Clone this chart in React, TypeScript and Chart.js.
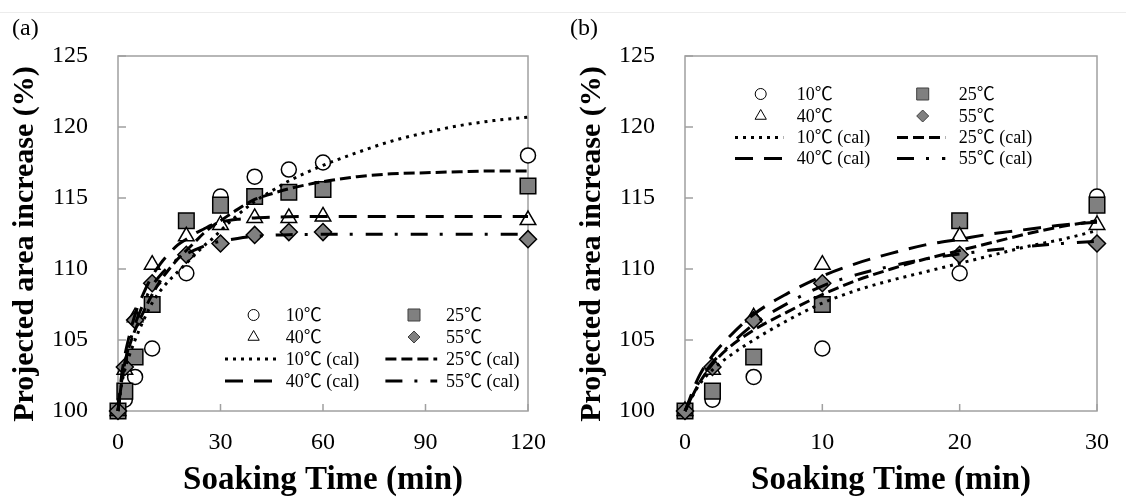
import React, { useEffect, useRef } from "react";
import { Chart, registerables } from "chart.js";

Chart.register(...registerables);

// ---------------- data ----------------
const seriesNames = ["10℃", "25℃", "40℃", "55℃"];

const measuredTimes = [0, 2, 5, 10, 20, 30, 40, 50, 60, 120];
const measured10 = [100, 100.8, 102.4, 104.4, 109.7, 115.1, 116.5, 117.0, 117.5, 118.0];
const measured25 = [100, 101.4, 103.8, 107.5, 113.4, 114.5, 115.1, 115.4, 115.6, 115.85];
const measured40 = [100, 102.9, 106.6, 110.3, 112.3, 113.1, 113.6, 113.6, 113.7, 113.45];
const measured55 = [100, 103.1, 106.4, 109.0, 111.0, 111.8, 112.4, 112.6, 112.6, 112.1];

const calTimes = [0, 1, 2, 3, 5, 7.5, 10, 12.5, 15, 17.5, 20, 22.5, 25, 27.5, 30, 35, 40, 45, 50, 60, 70, 80, 90, 100, 110, 120];
const cal10 = [100, 101.8, 102.9, 103.7, 105.0, 106.4, 107.6, 108.5, 109.2, 109.8, 110.4, 111.0, 111.6, 112.1, 112.7, 113.8, 114.75, 115.5, 116.2, 117.3, 118.2, 119.0, 119.6, 120.1, 120.45, 120.7];
const cal25 = [100, 101.9, 103.3, 104.3, 105.7, 107.0, 108.2, 109.2, 110.0, 110.7, 111.3, 111.9, 112.5, 113.0, 113.4, 114.2, 114.9, 115.3, 115.65, 116.15, 116.5, 116.7, 116.78, 116.85, 116.9, 116.9];
const cal40 = [100, 102.4, 103.9, 105.0, 106.8, 108.3, 109.5, 110.4, 111.1, 111.7, 112.1, 112.5, 112.8, 113.1, 113.3, 113.5, 113.6, 113.65, 113.68, 113.7, 113.7, 113.7, 113.7, 113.7, 113.7, 113.7];
const cal55 = [100, 102.0, 103.4, 104.4, 106.1, 107.6, 108.8, 109.6, 110.2, 110.7, 111.05, 111.35, 111.6, 111.8, 111.95, 112.15, 112.3, 112.38, 112.42, 112.44, 112.44, 112.44, 112.44, 112.44, 112.44, 112.44];

const xTicksA = [0, 30, 60, 90, 120];
const xTicksB = [0, 10, 20, 30];
const yTicks = [100, 105, 110, 115, 120, 125];

const xTitle = "Soaking Time (min)";
const yTitle = "Projected area increase (%)";
const panelLabels = ["(a)", "(b)"];

// ---------------- styles ----------------
const FONT = "'Liberation Serif', 'Times New Roman', 'Noto Sans CJK JP', serif";
const markerDefs = [
  { style: "circle", radius: 7.5, fill: "#ffffff", legendR: 5.5 },
  { style: "rect", radius: 11, fill: "#808080", legendR: 8.5 },
  { style: "triangle", radius: 9, fill: "#ffffff", legendR: 6.5 },
  { style: "rectRot", radius: 8.5, fill: "#808080", legendR: 6 },
];
const calDashes = [[3, 5], [11, 5], [18, 11], [17, 12, 3, 13]];

function drawMarker(ctx: CanvasRenderingContext2D, i: number, x: number, y: number) {
  const d = markerDefs[i];
  const r = d.legendR;
  ctx.save();
  ctx.fillStyle = d.fill;
  ctx.strokeStyle = i % 2 === 1 ? "#404040" : "#000";
  ctx.lineWidth = 1;
  ctx.setLineDash([]);
  ctx.beginPath();
  if (d.style === "circle") {
    ctx.arc(x, y, r, 0, Math.PI * 2);
  } else if (d.style === "rect") {
    const s = r * Math.SQRT1_2;
    ctx.rect(x - s, y - s, 2 * s, 2 * s);
  } else if (d.style === "triangle") {
    ctx.moveTo(x, y - r);
    ctx.lineTo(x + r * Math.sin((2 * Math.PI) / 3), y - r * Math.cos((2 * Math.PI) / 3));
    ctx.lineTo(x + r * Math.sin((4 * Math.PI) / 3), y - r * Math.cos((4 * Math.PI) / 3));
    ctx.closePath();
  } else {
    ctx.moveTo(x - r, y);
    ctx.lineTo(x, y - r);
    ctx.lineTo(x + r, y);
    ctx.lineTo(x, y + r);
    ctx.closePath();
  }
  ctx.fill();
  ctx.stroke();
  ctx.restore();
}

const framePlugin = {
  id: "frameTicks",
  beforeDatasetsDraw(chart: any) {
    const { ctx, chartArea: a, scales } = chart;
    ctx.save();
    ctx.strokeStyle = "#a0a0a0";
    ctx.lineWidth = 1.5;
    ctx.setLineDash([]);
    ctx.strokeRect(a.left, a.top, a.right - a.left, a.bottom - a.top);
    ctx.beginPath();
    scales.x.ticks.forEach((t: any) => {
      const px = scales.x.getPixelForValue(t.value);
      ctx.moveTo(px, a.bottom);
      ctx.lineTo(px, a.bottom - 7);
    });
    scales.y.ticks.forEach((t: any) => {
      const py = scales.y.getPixelForValue(t.value);
      ctx.moveTo(a.left, py);
      ctx.lineTo(a.left + 8, py);
    });
    ctx.stroke();
    ctx.restore();
  },
};

const legendPlugin = {
  id: "innerLegend",
  afterDatasetsDraw(chart: any, _args: any, opts: any) {
    if (!opts || !opts.rows) return;
    const { ctx, chartArea: a } = chart;
    ctx.save();
    ctx.font = `${opts.fontSize}px ${FONT}`;
    ctx.textBaseline = "middle";
    ctx.textAlign = "left";
    for (let r = 0; r < 4; r++) {
      const y = a.top + opts.rows[r];
      for (let c = 0; c < 2; c++) {
        const s = (r % 2) * 2 + c;
        const off = c * opts.colGap;
        if (r < 2) {
          drawMarker(ctx, s, a.left + opts.symbolX + off, y);
        } else {
          ctx.save();
          ctx.strokeStyle = "#000";
          ctx.lineWidth = 3;
          ctx.setLineDash(calDashes[s]);
          ctx.beginPath();
          ctx.moveTo(a.left + opts.lineX0 + off, y);
          ctx.lineTo(a.left + opts.lineX1 + off, y);
          ctx.stroke();
          ctx.restore();
        }
        const label = r < 2 ? seriesNames[s] : `${seriesNames[s]} (cal)`;
        ctx.fillStyle = "#000";
        ctx.fillText(label, a.left + opts.textX + off, y + 1);
      }
    }
    ctx.restore();
  },
};

function buildConfig(which: "a" | "b"): any {
  const isA = which === "a";
  const tMax = isA ? 120 : 30;
  const xTicks = isA ? xTicksA : xTicksB;
  const measuredSeries = [measured10, measured25, measured40, measured55];
  const calSeries = [cal10, cal25, cal40, cal55];
  const datasets: any[] = [];
  calSeries.forEach((vals, i) => {
    datasets.push({
      type: "line",
      label: `${seriesNames[i]} (cal)`,
      data: calTimes.map((t, k) => ({ x: t, y: vals[k] })).filter((p) => p.x <= tMax),
      borderColor: "#000",
      borderWidth: 3,
      borderDash: calDashes[i],
      borderCapStyle: "butt",
      pointRadius: 0,
      fill: false,
      cubicInterpolationMode: "monotone",
      clip: false,
      order: 1,
    });
  });
  measuredSeries.forEach((vals, i) => {
    datasets.push({
      type: "scatter",
      label: seriesNames[i],
      data: measuredTimes.map((t, k) => ({ x: t, y: vals[k] })).filter((p) => p.x <= tMax),
      pointStyle: markerDefs[i].style,
      pointRadius: markerDefs[i].radius,
      pointBackgroundColor: markerDefs[i].fill,
      pointBorderColor: "#000",
      pointBorderWidth: 1.5,
      showLine: false,
      clip: false,
      order: 5 - i,
    });
  });

  return {
    type: "scatter",
    data: { datasets },
    plugins: [framePlugin, legendPlugin],
    options: {
      animation: false,
      responsive: false,
      devicePixelRatio: 1,
      events: [],
      layout: { padding: { left: 0, right: isA ? 32 : 28, top: 56, bottom: 0 } },
      plugins: {
        legend: { display: false },
        tooltip: { enabled: false },
        title: { display: false },
        innerLegend: isA
          ? { rows: [259, 281, 303, 325], symbolX: 135.6, textX: 167.7, lineX0: 107, lineX1: 158.8, colGap: 160.4, fontSize: 18 }
          : { rows: [38, 60, 81.5, 102.5], symbolX: 75.7, textX: 111.7, lineX0: 50, lineX1: 98.3, colGap: 162, fontSize: 18 },
      },
      scales: {
        x: {
          type: "linear",
          min: xTicks[0],
          max: xTicks[xTicks.length - 1],
          afterBuildTicks: (s: any) => {
            s.ticks = xTicks.map((v) => ({ value: v }));
          },
          ticks: { font: { family: FONT, size: 24 }, color: "#000", padding: 17, maxRotation: 0, autoSkip: false },
          grid: { display: false, drawTicks: false },
          border: { display: false },
          title: {
            display: true,
            text: xTitle,
            color: "#000",
            font: { family: FONT, size: 33, weight: "bold", lineHeight: 1 },
            padding: { top: 0, bottom: 0 },
          },
          afterFit: (s: any) => {
            s.height = 86;
          },
        },
        y: {
          type: "linear",
          min: yTicks[0],
          max: yTicks[yTicks.length - 1],
          afterBuildTicks: (s: any) => {
            s.ticks = yTicks.map((v) => ({ value: v }));
          },
          ticks: { font: { family: FONT, size: 24 }, color: "#000", padding: 30 },
          grid: { display: false, drawTicks: false },
          border: { display: false },
          title: {
            display: true,
            // trailing spaces nudge the rotated title slightly down, as in the reference
            text: yTitle + "\u00a0\u00a0\u2009",
            color: "#000",
            font: { family: FONT, size: 30, weight: "bold", lineHeight: 1.2 },
            padding: { top: 7, bottom: 0 },
          },
          afterFit: (s: any) => {
            s.width = 118;
          },
        },
      },
    },
  };
}

function Panel({ which, left, width }: { which: "a" | "b"; left: number; width: number }) {
  const ref = useRef<HTMLCanvasElement>(null);
  useEffect(() => {
    if (!ref.current) return;
    const chart = new Chart(ref.current, buildConfig(which));
    return () => chart.destroy();
  }, [which]);
  return (
    <canvas
      ref={ref}
      width={width}
      height={497}
      style={{ position: "absolute", left, top: 0, width, height: 497, display: "block" }}
    />
  );
}

export default function App() {
  const labelStyle: React.CSSProperties = {
    position: "absolute",
    top: 13,
    fontFamily: FONT,
    fontSize: 24,
    lineHeight: "28px",
    color: "#000",
  };
  return (
    <div style={{ position: "absolute", left: 0, top: 0, width: 1126, height: 497, background: "#fff", overflow: "hidden" }}>
      <div style={{ position: "absolute", left: 0, top: 12, width: 1126, height: 1, background: "#ececec" }} />
      <Panel which="a" left={0} width={563} />
      <Panel which="b" left={567} width={559} />
      <span style={{ ...labelStyle, left: 12 }}>{panelLabels[0]}</span>
      <span style={{ ...labelStyle, left: 570 }}>{panelLabels[1]}</span>
    </div>
  );
}
